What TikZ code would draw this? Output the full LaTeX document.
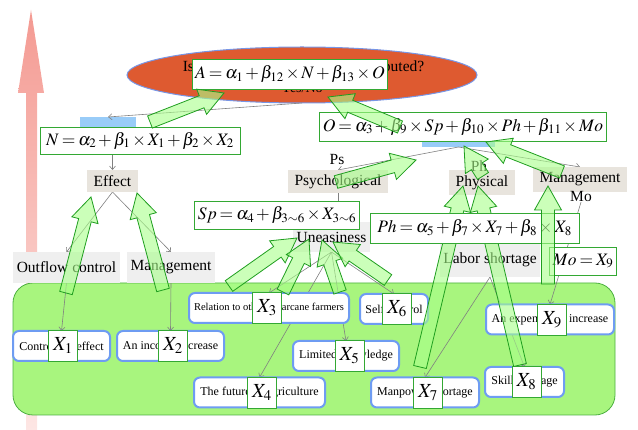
\documentclass[tikz,border=0pt]{standalone}
\usepackage{mathptmx}
\usepackage{fontspec}
\setmainfont{Liberation Serif}
\usetikzlibrary{arrows.meta,calc,positioning,shapes.geometric}

\definecolor{eqgreen}{HTML}{33A833}
\definecolor{fatgreen}{HTML}{A8FF8A}
\definecolor{fatedge}{HTML}{1F9E1F}
\definecolor{itemblue}{HTML}{6E9CF2}
\definecolor{padgreen}{HTML}{A8F57E}
\definecolor{padedge}{HTML}{4CB040}
\definecolor{tagbeige}{HTML}{E8E4DD}
\definecolor{taggray}{HTML}{EFEFEF}
\definecolor{ovalred}{HTML}{DE5A30}
\definecolor{ovaledge}{HTML}{7896E6}
\definecolor{barblue}{HTML}{99CCF8}
\definecolor{linkgray}{HTML}{808080}
\definecolor{pinktop}{HTML}{F49A92}
\definecolor{pinkbot}{HTML}{FDE6E4}

\pgfdeclarelayer{back}
\pgfdeclarelayer{wires}
\pgfsetlayers{back,wires,main}

\tikzset{
  every node/.style = {inner sep=0, outer sep=0},
  link/.style = {draw=linkgray, line width=0.6pt, -{Straight Barb[length=3.5pt,width=6pt]}},
  formula/.style = {rectangle, draw=eqgreen, fill=white, line width=0.9pt, inner xsep=3pt,
    font=\fontsize{17.5}{18}\selectfont,
    execute at begin node={\thickmuskip=3mu\medmuskip=2mu}},
  xlab/.style = {rectangle, draw=eqgreen, fill=white, line width=0.9pt, minimum width=29, minimum height=31, font=\fontsize{20}{20}\selectfont},
  tag/.style = {rectangle, fill=tagbeige, font=\fontsize{15.5}{16}\selectfont},
  softtag/.style = {tag, fill=taggray},
  item/.style = {rectangle, rounded corners=6pt, draw=itemblue, line width=2pt, fill=white, minimum height=30},
  pad/.style = {rectangle, rounded corners=20pt, draw=padedge, line width=0.8pt, fill=padgreen},
  oval/.style = {ellipse, draw=ovaledge, line width=1pt, fill=ovalred},
  bar/.style = {rectangle, fill=barblue},
  fat/.style = {draw=fatedge, line width=0.8pt, fill=fatgreen, fill opacity=0.6}
}

% wide translucent arrow from #1 to #2
\newcommand{\fatarrow}[2]{%
  \coordinate (fh) at ($(#2)!24pt!(#1)$);
  \draw[fat] ($(#1)!6.5pt!90:(#2)$) -- ($(fh)!6.5pt!90:(#2)$) -- ($(fh)!13.5pt!90:(#2)$) -- (#2)
    -- ($(fh)!13.5pt!-90:(#2)$) -- ($(fh)!6.5pt!-90:(#2)$) -- ($(#1)!6.5pt!-90:(#2)$) -- cycle;
}

\begin{document}
\begin{tikzpicture}[x=1pt, y=-1pt]
  \useasboundingbox (0,0) rectangle (638,430);

  \begin{pgfonlayer}{back}
    % rising arrow on the left
    \shade[top color=pinktop, bottom color=pinkbot]
      (26,430) -- (26,93) -- (18,93) -- (31,10) -- (44,93) -- (37,93) -- (37,430) -- cycle;
    \node[oval, minimum width=350, minimum height=56] (oval) at (302,75) {};
    \node[anchor=base, font=\fontsize{15.5}{16}\selectfont] (ask) at (303.5,72) {Is the irrigation water well distributed?};
    \node[anchor=base, font=\fontsize{14}{14}\selectfont] (yesno) at (302,93) {Yes/No};
    \node[bar, minimum width=56, minimum height=11] (nbar) at (108,122.5) {};
    \node[bar, minimum width=73, minimum height=9] (obar) at (458.5,142.5) {};
    \node[pad, minimum width=602, minimum height=132] (pad) at (314,349) {};
  \end{pgfonlayer}

  % factor labels
  \node[tag, minimum width=51, minimum height=22] (effect) at (112.5,181) {Effect};
  \node[tag, minimum width=100, minimum height=23] (psych) at (338,181.5) {Psychological};
  \node[tag, minimum width=66, minimum height=25] (phys) at (482,182.5) {Physical};
  \node[tag, minimum width=94, minimum height=25] (mgmtr) at (580,179.5) {Management};
  \node[softtag, minimum width=77, minimum height=30] (uneas) at (331.5,237) {Uneasiness};
  \node[softtag, minimum width=100, minimum height=34] (labor) at (490,260) {Labor shortage};
  \node[softtag, minimum width=107, minimum height=31] (outflow) at (66.5,267.5) {Outflow control};
  \node[softtag, minimum width=88, minimum height=31] (mgmtl) at (171,267.5) {Management};
  \node[font=\fontsize{15.5}{16}\selectfont] (ps) at (337,160) {Ps};
  \node[font=\fontsize{15.5}{16}\selectfont] (ph) at (479,166) {Ph};
  \node[font=\fontsize{15.5}{16}\selectfont] (mo) at (581,197) {Mo};

  % survey items with their variables
  \foreach \n/\cx/\cy/\w/\lx/\fs/\txt in {
      1/61.5/346/97/63/12/Control the effect,
      2/170.5/346/107/173/12/An income increase,
      3/269/308/160/267/10.5/Relation to other sugarcane farmers,
      4/259.5/392.5/131/262/12/The future of agriculture,
      5/346/356/106/349.5/12/Limited knowledge,
      6/394/309/68/397/12/Self-control,
      7/425/392.5/108/428/12/Manpower shortage,
      8/524.5/382/79/526.5/12/Skill shortage,
      9/550/319.5/128/552/12/An expenditure increase} {
    \node[item, minimum width=\w, font=\fontsize{\fs}{\fs}\selectfont] (item\n) at (\cx,\cy) {\txt};
    \node[xlab] (xl\n) at (\lx,\cy) {$X_{\n}$};
  }

  \coordinate (x7P) at (420,367);  \coordinate (Px7) at (463,186);
  \coordinate (x8P) at (520,365);  \coordinate (Px8) at (478,186);
  \fatarrow{x7P}{Px7}
  \fatarrow{x8P}{Px8}

  % regression equations
  \node[formula, minimum width=194, minimum height=30] (abox) at (290,74) {$A=\alpha_1+\beta_{12}\times N+\beta_{13}\times O$};
  \node[formula, minimum width=200, minimum height=27] (nbox) at (140,140.5) {$N=\alpha_2+\beta_1\times X_1+\beta_2\times X_2$};
  \node[formula, minimum width=284, minimum height=29] (obox) at (463,126.5) {$O=\alpha_3+\beta_9\times Sp+\beta_{10}\times Ph+\beta_{11}\times Mo$};
  \node[formula, minimum width=160, minimum height=28] (spbox) at (277,215) {$Sp=\alpha_4+\beta_{3\sim6}\times X_{3\sim6}$};
  \node[formula, minimum width=209, minimum height=30] (phbox) at (474.5,228) {$Ph=\alpha_5+\beta_7\times X_7+\beta_8\times X_8$};
  \node[formula, minimum width=60, minimum height=28] (mobox) at (583,261) {$Mo=X_9$};

  \coordinate (nA) at (150,122);   \coordinate (An) at (224,93);
  \coordinate (oA) at (400,127);   \coordinate (Ao) at (328,97);
  \coordinate (psO) at (336,182);  \coordinate (Ops) at (416,160);
  \coordinate (phO) at (483,176);  \coordinate (Oph) at (464,146);
  \coordinate (moO) at (562,172);  \coordinate (Omo) at (486,142);
  \coordinate (ofE) at (66,293);   \coordinate (Eof) at (91,197);
  \coordinate (mgE) at (163,290);  \coordinate (Emg) at (137,193);
  \coordinate (u1) at (229,286);   \coordinate (U1) at (297,238);
  \coordinate (u2) at (283,292);   \coordinate (U2) at (309,239);
  \coordinate (u3) at (340,292);   \coordinate (U3) at (322,240);
  \coordinate (u4) at (388,280);   \coordinate (U4) at (333,242);
  \coordinate (x9M) at (548,284);  \coordinate (Mx9) at (548,186);
  \foreach \t/\h in {nA/An, oA/Ao, psO/Ops, phO/Oph, moO/Omo, ofE/Eof, mgE/Emg,
                     u1/U1, u2/U2, u3/U3, u4/U4, x9M/Mx9} {
    \fatarrow{\t}{\h}
  }

  \begin{pgfonlayer}{wires}
    \draw[link] (oval.south) -- (nbar.north);
    \draw[link] (effect.north |- nbox.south) -- (effect.north);
    \draw[link] (effect.south) -- (outflow.north);
    \draw[link] (effect.south) -- (mgmtl.north);
    \draw[link] (outflow.south) -- (item1.north);
    \draw[link] (mgmtl.south) -- (item2.north);
    \draw[link] (obar.south) -- (psych.north);
    \draw[link] (obar.south) -- (mgmtr.north);
    \draw[link, -] (psych.south) -- (psych.south |- spbox.north);
    \foreach \k in {3,...,6} {
      \draw[link] (uneas.south) -- (item\k.north);
    }
    \draw[link] (labor.south) -- (item7.north);
    \draw[link] (labor.south) -- (item8.north);
    \draw[link] (mo.south) -- (item9.north);
  \end{pgfonlayer}
\end{tikzpicture}
\end{document}
